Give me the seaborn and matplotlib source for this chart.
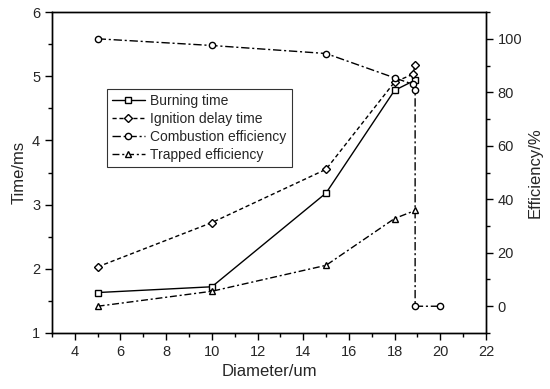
import matplotlib
matplotlib.use("Agg")
import matplotlib.pyplot as plt
import seaborn as sns
from matplotlib.ticker import MultipleLocator

sns.set_style("ticks")
plt.rcParams['font.family'] = ['Liberation Sans', 'DejaVu Sans']

# data
burn_x = [5, 10, 15, 18, 18.9]
burn_t = [1.63, 1.72, 3.18, 4.78, 4.94]

ign_x = [5, 10, 15, 18, 18.8, 18.9]
ign_t = [2.03, 2.72, 3.55, 4.91, 5.03, 5.17]

comb_x = [5, 10, 15, 18, 18.8, 18.9, 18.9, 20]
comb_eff = [100, 97.5, 94.5, 85.4, 83, 81, 0, 0]

trap_x = [5, 10, 15, 18, 18.9]
trap_eff = [0, 5.6, 15.3, 32.8, 35.8]

fig = plt.figure(figsize=(5.5, 3.89), dpi=100)
ax = fig.add_axes([0.0945, 0.144, 0.789, 0.825])
ax2 = ax.twinx()

mk = dict(color='black', markerfacecolor='white', markeredgecolor='black',
          markersize=4.5, markeredgewidth=1.0, linewidth=1.0,
          estimator=None, errorbar=None, sort=False, legend=False)

sns.lineplot(x=burn_x, y=burn_t, ax=ax, marker='s', linestyle='-',
             label='Burning time', **mk)
sns.lineplot(x=ign_x, y=ign_t, ax=ax, marker='D',
             label='Ignition delay time', **dict(mk, markersize=4))
ax.lines[-1].set_dashes([3, 2])
sns.lineplot(x=comb_x, y=comb_eff, ax=ax2, marker='o',
             label='Combustion efficiency', **mk)
ax2.lines[-1].set_dashes([6, 2, 1.5, 2])
sns.lineplot(x=trap_x, y=trap_eff, ax=ax2, marker='^',
             label='Trapped efficiency', **mk)
ax2.lines[-1].set_dashes([5, 2, 1.5, 2])

ax.set_xlim(3, 22)
ax.set_ylim(1, 6)
ax2.set_ylim(-10, 110)
ax.xaxis.set_major_locator(MultipleLocator(2))
ax.xaxis.set_minor_locator(MultipleLocator(1))
ax.yaxis.set_major_locator(MultipleLocator(1))
ax.yaxis.set_minor_locator(MultipleLocator(0.5))
ax2.set_yticks(range(0, 101, 20))
ax2.yaxis.set_minor_locator(MultipleLocator(10))

for a in (ax, ax2):
    a.tick_params(which='major', length=5, width=1, labelsize=10.5, color='black')
    a.tick_params(which='minor', length=3, width=1, color='black')
    for s in a.spines.values():
        s.set_visible(True)
        s.set_linewidth(1.0)
        s.set_color('black')

ax.set_xlabel('Diameter/um', fontsize=12)
ax.set_ylabel('Time/ms', fontsize=12)
ax2.set_ylabel('Efficiency/%', fontsize=12)

handles = ax.lines[:2] + ax2.lines[:2]
labels = ['Burning time', 'Ignition delay time', 'Combustion efficiency', 'Trapped efficiency']
leg = ax.legend(handles, labels, loc='upper left', bbox_to_anchor=(0.11, 0.782),
                frameon=True, fancybox=False, edgecolor='black', fontsize=10,
                handlelength=2.4, handletextpad=0.4, borderpad=0.35, labelspacing=0.3)
leg.get_frame().set_linewidth(0.8)

fig.savefig('out.png', dpi=100)
